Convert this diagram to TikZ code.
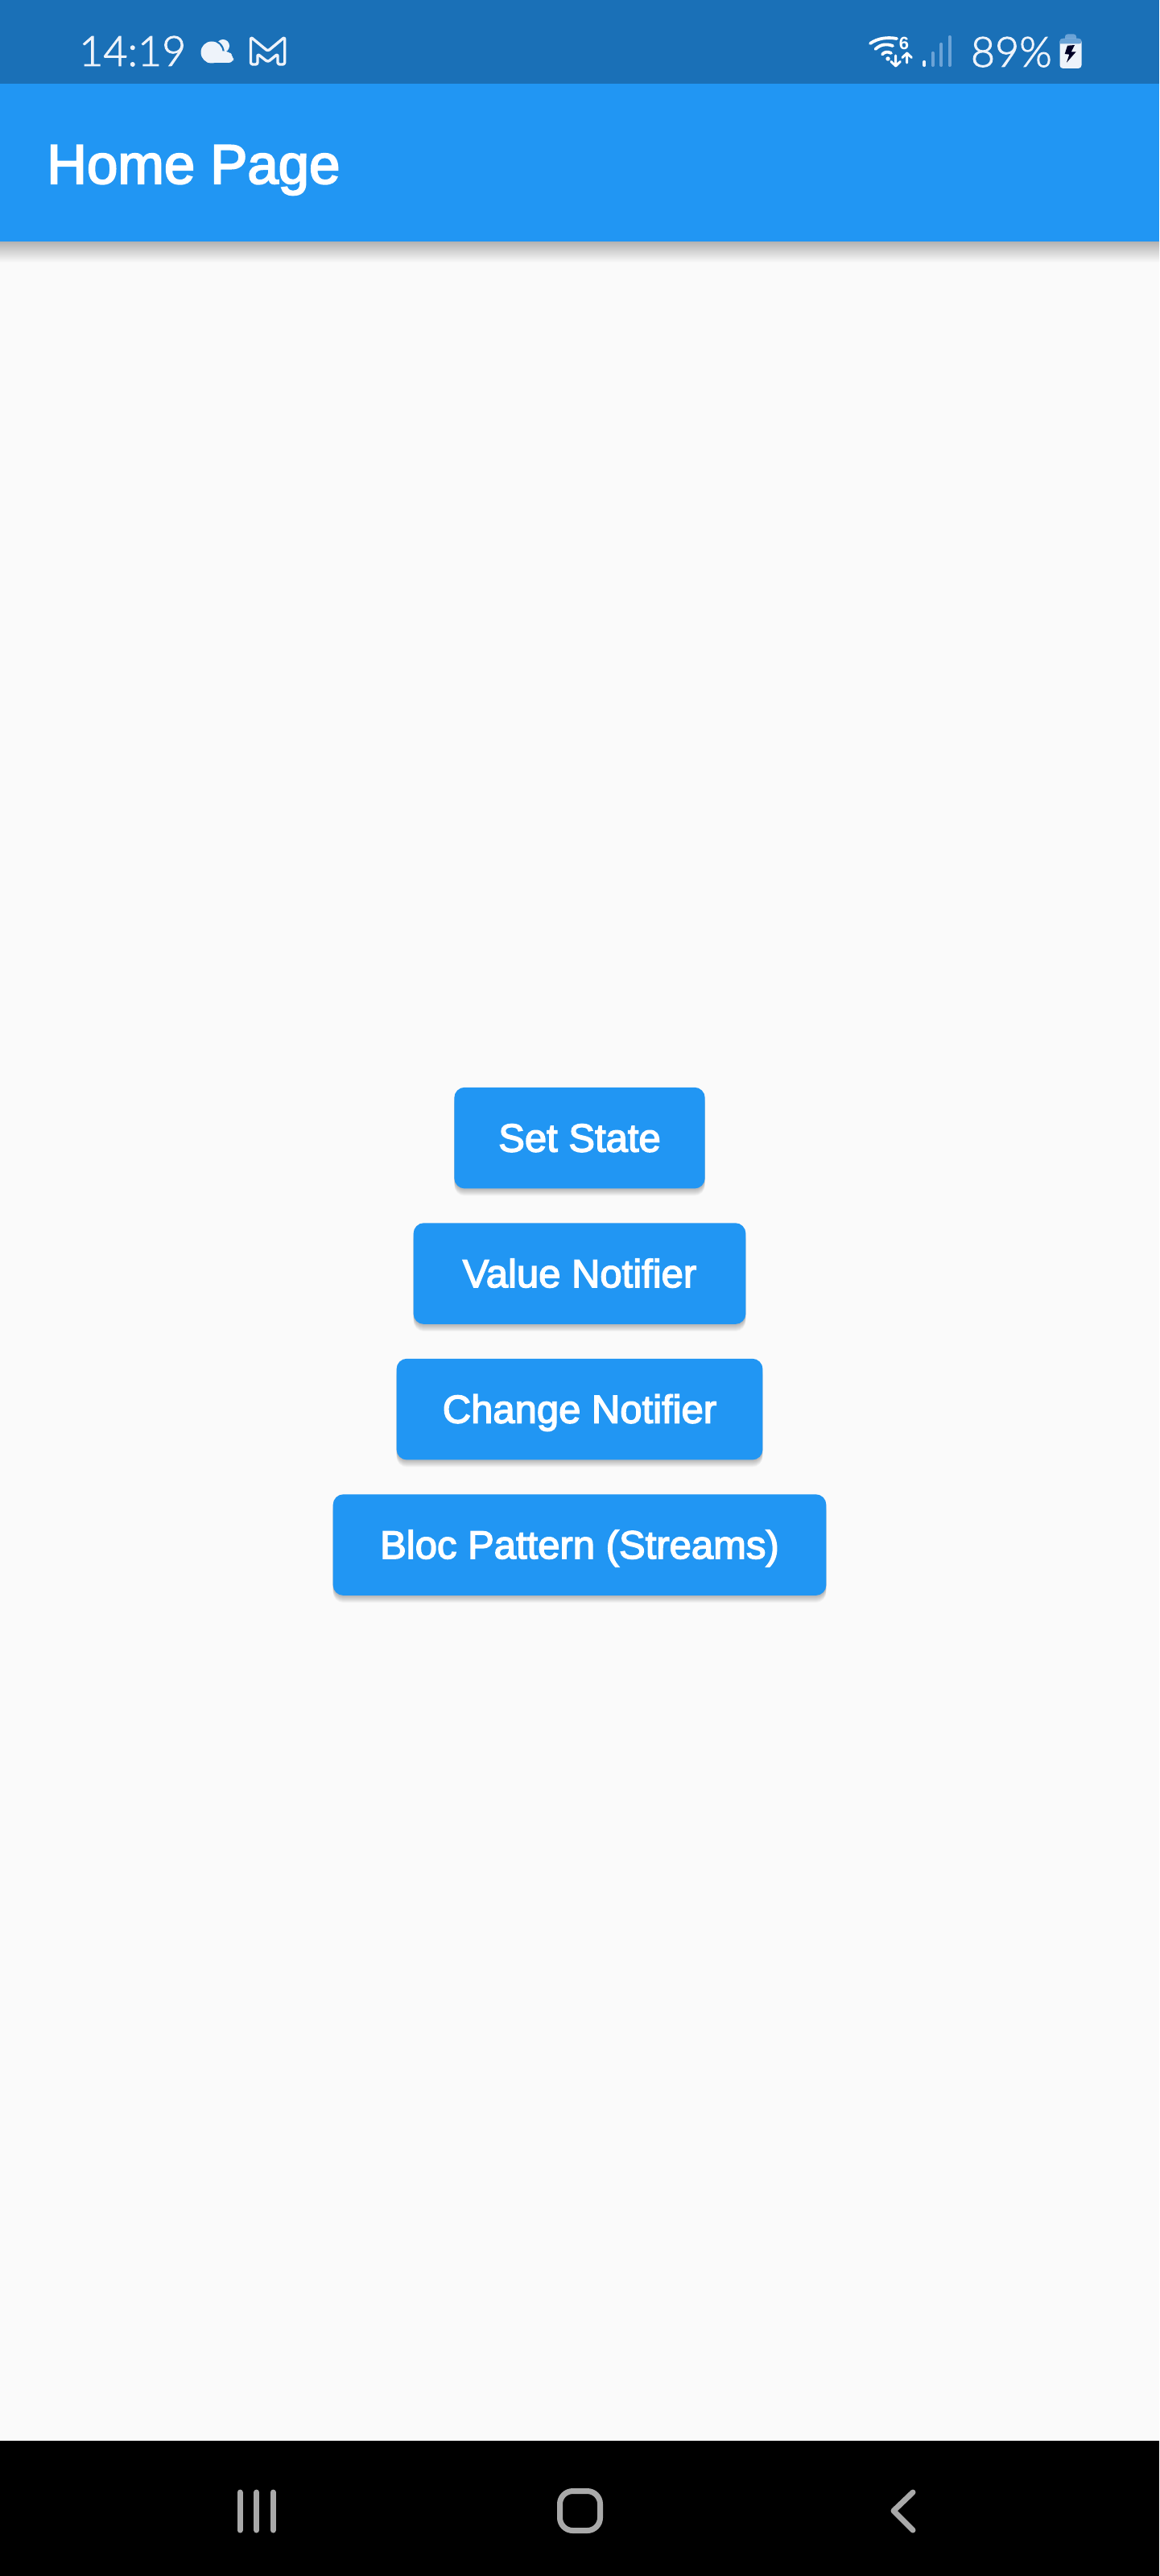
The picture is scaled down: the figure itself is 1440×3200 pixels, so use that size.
\documentclass[tikz,border=0pt]{standalone}
\usepackage{fontspec}
\setmainfont{Liberation Sans}
\newfontfamily\statusfont[UprightFont=* Light, FakeBold=1.8]{Lato}
\newfontfamily\mediumfont[FakeBold=3]{Liberation Sans}
\usetikzlibrary{positioning,shadows}
\definecolor{appblue}{HTML}{2196F3}
\definecolor{statusblue}{HTML}{1A70B7}
\definecolor{pagebg}{HTML}{FAFAFA}
\definecolor{iconwhite}{HTML}{EEF3FA}
\definecolor{icondim}{HTML}{6BA3D6}
\definecolor{navgray}{HTML}{A9A9A9}
\tikzset{
  softshadow/.style = {drop shadow={shadow xshift=0pt, shadow yshift=-#1pt, opacity=.03, fill=black}},
  homebtn/.style = {fill=appblue, rounded corners=13pt, text=white, minimum height=125.7pt,
    inner sep=0pt, text height=34pt, text depth=0pt, font=\fontsize{49}{56}\mediumfont\selectfont,
    softshadow=1, softshadow=2, softshadow=3, softshadow=4, softshadow=5, softshadow=6, softshadow=7, softshadow=8, softshadow=9},
  statustext/.style = {text=iconwhite, inner sep=0pt, font=\fontsize{52}{60}\statusfont\selectfont},
  wifiarc/.style = {draw=white, line width=3.8pt, line cap=round, line join=round},
  navline/.style = {draw=navgray, line width=7pt, line cap=round, line join=round}
}
\begin{document}
\begin{tikzpicture}[x=1pt, y=-1pt]
  \useasboundingbox (0,0) rectangle (1440,3200);
  \fill[pagebg] (0,0) rectangle (1440,3200);
  % app bar
  \shade[top color=black!30, bottom color=pagebg] (0,300) rectangle (1440,326);
  \fill[statusblue] (0,0) rectangle (1440,104);
  \fill[appblue] (0,104) rectangle (1440,300);
  \node[text=white, inner sep=0pt, anchor=base west, font=\fontsize{69}{84}\mediumfont\selectfont] (title) at (58,228) {Home Page};
  % status bar left
  \node[statustext, anchor=base west] (clock) at (98,82) {14:19};
  \fill[iconwhite] (277,57) circle (8);
  \fill[iconwhite, draw=statusblue, line width=2.5pt] (263,65) circle (14.5);
  \fill[iconwhite, rounded corners=6pt] (262,63.5) -- (284,63.5) -- (290,70) -- (290,78) -- (254,78) -- cycle;
  \fill[iconwhite] (263,65) circle (13.5);
  \draw[iconwhite, line width=3.4pt, rounded corners=2.5pt, line join=round]
    (311.5,80) -- (311.5,46) -- (332.7,63.5) -- (353.7,46) -- (353.7,80) -- (345,80) -- (345,67) -- (332.7,77) -- (320,67) -- (320,80) -- cycle;
  % status bar right
  \draw[wifiarc] (1081,54) .. controls (1091,47) and (1103,46) .. (1114,48);
  \draw[wifiarc] (1087.5,61) .. controls (1094,55) and (1101,54) .. (1109,57);
  \draw[wifiarc] (1096,67.5) .. controls (1099,64) and (1103,64) .. (1107,66);
  \fill[white] (1103,73) circle (2.7);
  \node[text=white, inner sep=0pt, font=\fontsize{22}{24}\selectfont\bfseries] (wifisix) at (1123,54) {6};
  \draw[wifiarc, line width=3pt] (1112.7,69) -- (1112.7,82) (1107,76.5) -- (1112.7,82) -- (1118.4,76.5);
  \draw[wifiarc, line width=3pt] (1126.7,78) -- (1126.7,66) (1121,71.5) -- (1126.7,66) -- (1132.4,71.5);
  \draw[iconwhite, line width=4.2pt, line cap=round] (1148.3,77) -- (1148.3,81);
  \draw[icondim, line width=4.2pt, line cap=round] (1158.7,66) -- (1158.7,81);
  \draw[icondim, line width=4.2pt, line cap=round] (1169.3,55) -- (1169.3,81);
  \draw[icondim, line width=4.2pt, line cap=round] (1179.7,46) -- (1179.7,81);
  \node[statustext, anchor=base east] (battlabel) at (1307,83) {89\%};
  \fill[icondim, rounded corners=3pt] (1323,42.5) rectangle (1337,52);
  \fill[iconwhite, rounded corners=4pt] (1316.5,48) rectangle (1343.5,85);
  \fill[icondim, rounded corners=3pt] (1316.5,54.5) -- (1316.5,48) -- (1343.5,48) -- (1343.5,54.5) [sharp corners] -- cycle;
  \fill[black!85!blue] (1326,56.7) -- (1335,56) -- (1330.7,64.3) -- (1336.7,64.3) -- (1325,77.7) -- (1328.3,67.7) -- (1322.7,67) -- cycle;
  % buttons
  \node[homebtn, minimum width=311.4pt] (setstate) at (720,1413.6) {Set State};
  \node[homebtn, minimum width=412.8pt] (valuenotifier) [below=42.4pt of setstate] {Value Notifier};
  \node[homebtn, minimum width=454.9pt] (changenotifier) [below=42.4pt of valuenotifier] {Change Notifier};
  \node[homebtn, minimum width=612.7pt] (blocpattern) [below=42.4pt of changenotifier] {Bloc Pattern (Streams)};
  % nav bar
  \fill[black] (0,3032) rectangle (1440,3200);
  \draw[navline] (298,3096) -- (298,3143);
  \draw[navline] (318.7,3096) -- (318.7,3143);
  \draw[navline] (339.3,3096) -- (339.3,3143);
  \draw[navline, rounded corners=16pt] (695.5,3094.5) rectangle (745.5,3143.5);
  \draw[navline] (1134,3096) -- (1110,3119) -- (1134,3143);
\end{tikzpicture}
\end{document}
